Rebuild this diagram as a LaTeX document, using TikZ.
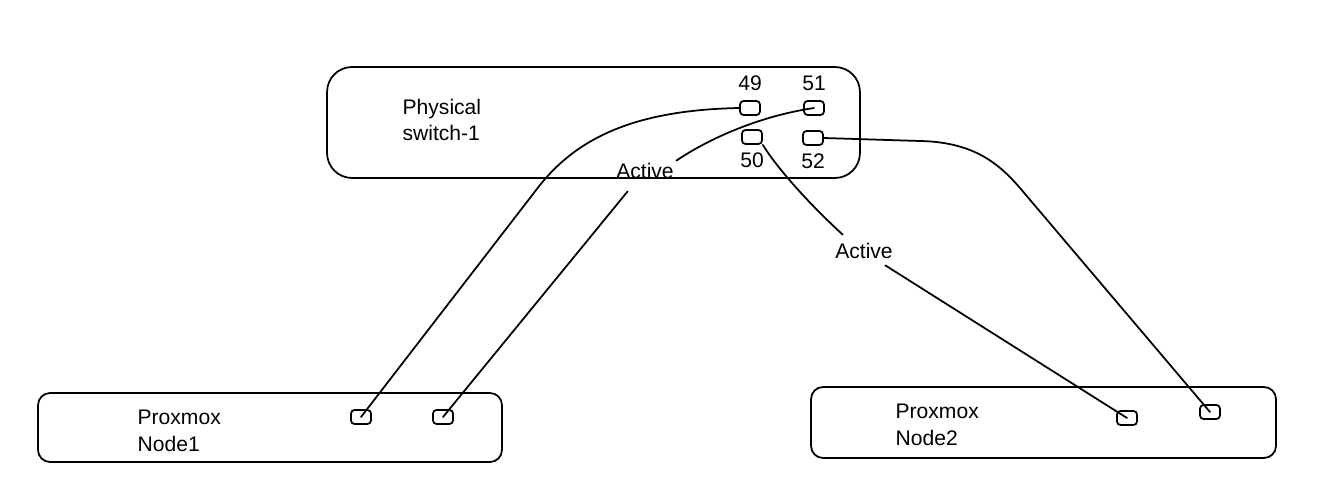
\documentclass[tikz,border=0pt]{standalone}
\usepackage{fontspec}
\setmainfont{Liberation Sans}
\usepackage{tikz}
\usetikzlibrary{positioning}

\begin{document}
\begin{tikzpicture}[x=0.02cm, y=-0.02cm, line width=1pt,
  box/.style={draw, rounded corners=0.24cm},
  port/.style={draw, rounded corners=2pt, minimum width=0.4cm, minimum height=0.28cm, inner sep=0pt},
  txt/.style={font=\fontsize{12}{15}\selectfont, inner sep=1pt},
  wire/.style={line cap=round}]
  \useasboundingbox (0,0) rectangle (1320,504);

  % switch
  \node[box, rounded corners=0.5cm, minimum width=10.66cm, minimum height=2.22cm] (sw) at (593.5,122.5) {};
  \node[txt, align=left, anchor=west] (swname) at (400,120) {Physical\\switch-1};
  \node[port] (p49) at (750,108) {};
  \node[port] (p51) at (814,108) {};
  \node[port] (p50) at (752,137) {};
  \node[port] (p52) at (813,138) {};
  \node[txt, above=4pt of p49] (l49) {49};
  \node[txt, above=4pt of p51] (l51) {51};
  \node[txt, below=3pt of p50] (l50) {50};
  \node[txt, below=3pt of p52] (l52) {52};

  % proxmox nodes
  \node[box, minimum width=9.28cm, minimum height=1.38cm] (n1) at (270,427.5) {};
  \node[txt, align=left, anchor=west] (n1name) at (135,431) {Proxmox\\Node1};
  \node[port] (n1a) at (361,417) {};
  \node[port] (n1b) at (443,417) {};
  \node[box, minimum width=9.3cm, minimum height=1.42cm] (n2) at (1043.5,422.5) {};
  \node[txt, align=left, anchor=west] (n2name) at (893,425) {Proxmox\\Node2};
  \node[port] (n2a) at (1127,418) {};
  \node[port] (n2b) at (1210,412) {};

  % links
  \node[txt] (act1) at (645,171) {Active};
  \node[txt] (act2) at (864,251) {Active};
  \draw[wire] (p49.west) .. controls (640,110) and (580,135) .. (540,185) -- (n1a.center);
  \draw[wire] (p51.center) .. controls (760,116) and (710,138) .. (act1.north east);
  \draw[wire] ([shift={(14,10)}]act1.south west) -- (n1b.center);
  \draw[wire] (p50.south east) .. controls (775,165) and (805,200) .. ([shift={(10,-6)}]act2.north west);
  \draw[wire] ([shift={(-10,4)}]act2.south east) -- (n2a.center);
  \draw[wire] (p52.east) -- (920,141) .. controls (975,142) and (1000,165) .. (1020,188) -- (n2b.center);
\end{tikzpicture}
\end{document}
